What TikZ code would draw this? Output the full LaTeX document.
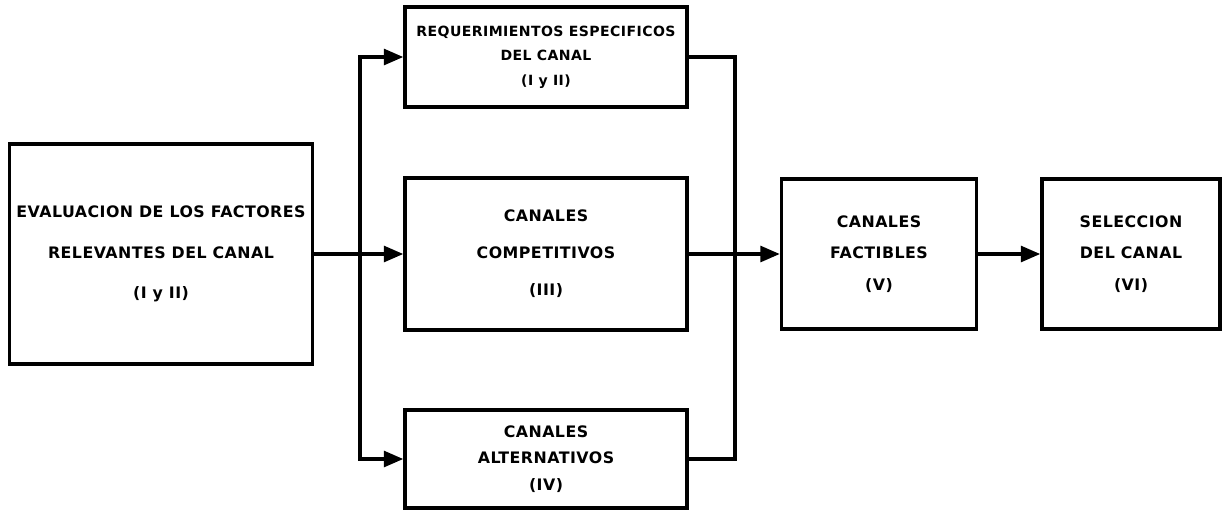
\documentclass[tikz,border=0pt]{standalone}
\usepackage{fontspec}
\setmainfont{DejaVu Sans}
\usetikzlibrary{arrows.meta, positioning}
\newfontfamily\blockfont[LetterSpace=3]{DejaVu Sans Bold}

\tikzset{
	blk/.style={draw, line width=2pt, align=center, font=\blockfont\fontsize{9}{11}\selectfont, inner sep=0pt},
	wire/.style={line width=1.8pt},
	arr/.style={wire, -{Triangle[length=11pt, width=9pt]}},
}

\begin{document}
\begin{tikzpicture}[x=0.02cm, y=-0.02cm]
	\useasboundingbox (0, 0) rectangle (1225, 515);
	% Blocks:
	\node[blk, minimum width=6.06cm, minimum height=4.4cm] (eval) at (161, 254) {EVALUACION DE LOS FACTORES\\[12pt] RELEVANTES DEL CANAL\\[12pt] (I y II)};
	\node[blk, minimum width=5.64cm, minimum height=2.0cm, font=\blockfont\fontsize{8}{10}\selectfont] (req) at (546, 57) {REQUERIMIENTOS ESPECIFICOS\\[4pt] DEL CANAL\\[4pt] (I y II)};
	\node[blk, minimum width=5.64cm, minimum height=3.04cm] (comp) at (546, 254) {CANALES\\[10pt] COMPETITIVOS\\[10pt] (III)};
	\node[blk, minimum width=5.64cm, minimum height=1.96cm] (alt) at (546, 459) {CANALES\\[4pt] ALTERNATIVOS\\[4pt] (IV)};
	\node[blk, minimum width=3.9cm, minimum height=3.0cm] (fact) at (879, 254) {CANALES\\[7pt] FACTIBLES\\[7pt] (V)};
	\node[blk, minimum width=3.56cm, minimum height=3.0cm] (sel) at (1131, 254) {SELECCION\\[7pt] DEL CANAL\\[7pt] (VI)};
	% Split and join points:
	\coordinate (split) at (360, 254);
	\coordinate (join) at (735, 254);
	% Wires:
	\draw[arr] (eval.east) -- (comp.west);
	\draw[arr] (split) |- (req.west);
	\draw[arr] (split) |- (alt.west);
	\draw[wire] (req.east) -| (join) |- (alt.east);
	\draw[arr] (comp.east) -- (fact.west);
	\draw[arr] (fact.east) -- (sel.west);
\end{tikzpicture}
\end{document}
